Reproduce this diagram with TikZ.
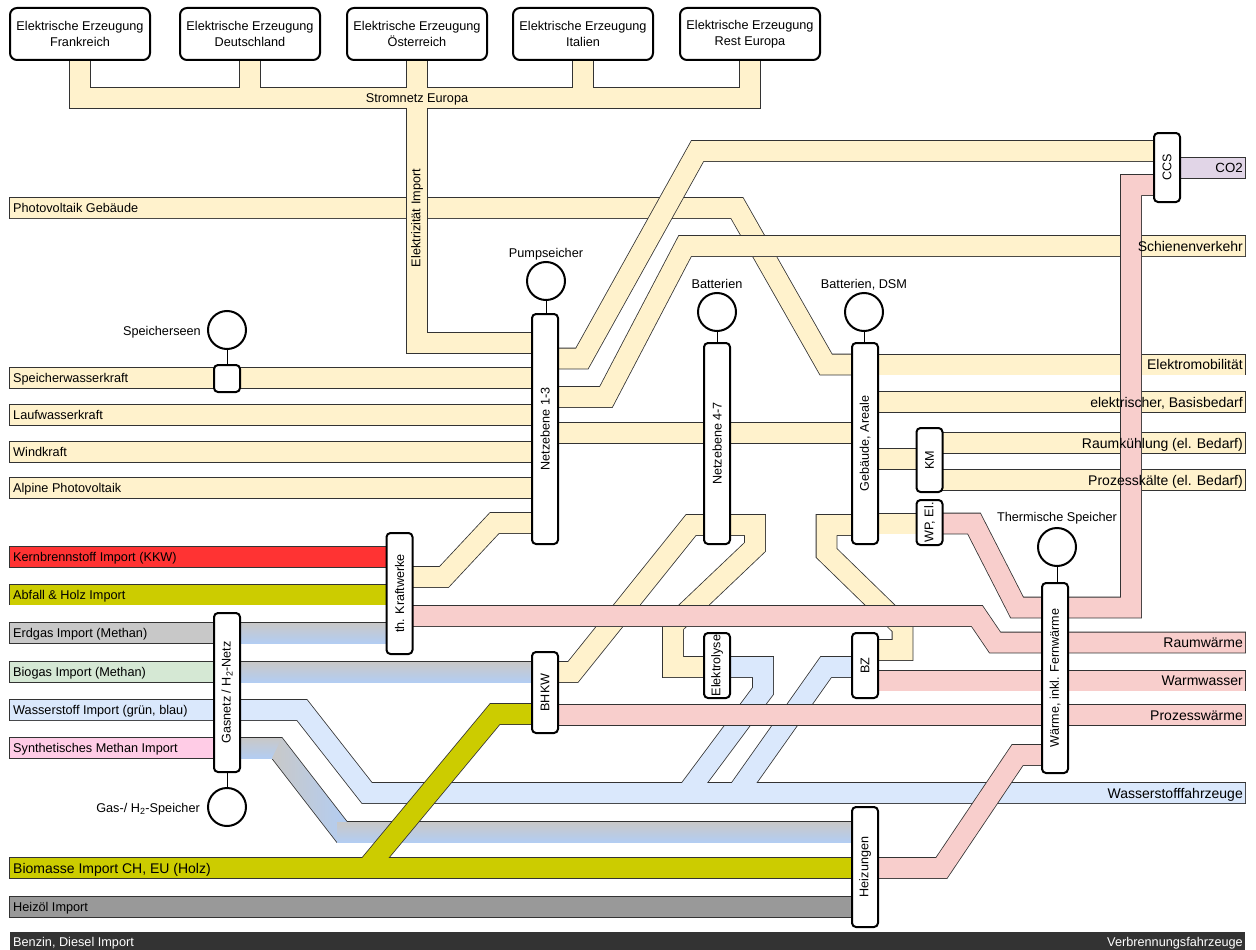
\documentclass[tikz,border=0pt]{standalone}
\usepackage{fontspec}
\setmainfont{Liberation Sans}
\usepackage{graphicx}
\definecolor{cEl}{HTML}{FFF2CC}
\definecolor{cHeat}{HTML}{F8CECC}
\definecolor{cHy}{HTML}{DAE8FC}
\definecolor{cOlive}{HTML}{CCCC00}
\definecolor{cRed}{HTML}{FF3333}
\definecolor{cGas}{HTML}{C8C8C8}
\definecolor{cGasB}{HTML}{B3CDF2}
\definecolor{cBio}{HTML}{D5E8D4}
\definecolor{cSyn}{HTML}{FFCCE6}
\definecolor{cOil}{HTML}{999999}
\definecolor{cDark}{HTML}{333333}
\definecolor{cCO}{HTML}{E1D5E7}
\pgfdeclarelayer{bg}
\pgfsetlayers{bg,main}
\newcommand\band[2]{\draw[bo] #2; \draw[bf=#1] #2;}
\newcommand\combpaths[1]{%
  \draw[#1] (fr.south) -- (80,98) -- (750,98) -- (re.south);
  \draw[#1] (de.south) -- (250,98);
  \draw[#1] (it.south) -- (583,98);
  \draw[#1] (oe.south) -- (417,343) -- (n13.west |- 0,343);}
\newcommand\ypaths[1]{%
  \draw[#1] (swL) -- (n13.west |- 0,378);
  \draw[#1] (lwL) -- (n13.west |- 0,415);
  \draw[#1] (wkL) -- (n13.west |- 0,452);
  \draw[#1] (apL) -- (n13.west |- 0,488);
  \draw[#1] (n13.east |- 0,433) -- (geb.west |- 0,433);
  \draw[#1] (thkw.east |- 0,577) -- (444,577) -- (494.5,523) -- (n13.west |- 0,523);
  \draw[#1] (geb.east |- 0,364.5) -- (emR);
  \draw[#1] (geb.east |- 0,402) -- (bbR);
  \draw[#1] (geb.east |- 0,459) -- (km.west |- 0,459);
  \draw[#1] (km.east |- 0,443) -- (rkR);
  \draw[#1] (km.east |- 0,480) -- (pkR);
  \draw[#1] (geb.east |- 0,523.5) -- (wp.west |- 0,523.5);
  \draw[#1] (geb.west |- 0,525) -- (826.5,525) -- (826.5,553) -- (902.5,627) -- (902.5,650) -- (bz.east |- 0,650);
  \draw[#1] (bhkw.east |- 0,672) -- (573,672) -- (691,525) -- (n47.west |- 0,525);
  \draw[#1] (n47.east |- 0,525) -- (755,525) -- (755,547) -- (673,625) -- (673,667) -- (ely.west |- 0,667);}
\newcommand\bpaths[1]{%
  \draw[#1] (wiL) -- (302,710) -- (367,793) -- (wfR);
  \draw[#1] (ely.east |- 0,667) -- (763,667) -- (763,691) -- (687,793);
  \draw[#1] (737,793) -- (826,667) -- (bz.west |- 0,667);}
\newcommand\ppaths[1]{%
  \draw[#1] (thkw.east |- 0,616) -- (977,616) -- (995,642.5) -- (rwR);
  \draw[#1] (wp.east |- 0,523.5) -- (974,523.5) -- (1017,607.5) -- (1131,607.5) -- (1131,185) -- (ccs.west |- 0,185);
  \draw[#1] (bz.east |- 0,680.5) -- (wwR);
  \draw[#1] (bhkw.east |- 0,715) -- (pwR);
  \draw[#1] (heiz.east |- 0,868) -- (941.5,868) -- (1017.5,755) -- (waerme.west |- 0,755);}
\newcommand\opaths[1]{%
  \draw[#1] (bmL) -- (heiz.west |- 0,868);
  \draw[#1] (367,868) -- (495,714) -- (bhkw.west |- 0,714);}
\begin{document}
\begin{tikzpicture}[x=1pt,y=-1pt,
  bo/.style={line width=21.6pt, draw=black!80, shorten <=-0.8pt, shorten >=-0.8pt},
  bf/.style={line width=20pt, draw=#1},
  bx/.style={draw=black, line width=2pt, fill=white, rounded corners=4pt, outer sep=0pt, inner sep=0pt, font=\fontsize{12.6}{14}\selectfont, minimum width=26pt},
  tbx/.style={draw=black, line width=2pt, fill=white, rounded corners=7pt, outer sep=0pt, minimum width=140pt, minimum height=52pt, align=center, font=\fontsize{12.7}{15.5}\selectfont},
  st/.style={circle, draw=black, line width=2pt, fill=white, minimum size=38pt, inner sep=0pt, outer sep=0pt},
  lbl/.style={font=\fontsize{12.7}{14}\selectfont, inner sep=0pt},
  big/.style={font=\fontsize{14}{16}\selectfont, yshift=-0.5pt},
  lt/.style={lbl, anchor=base west, yshift=-4.5pt},
  rt/.style={lbl, anchor=base east, yshift=-4.5pt},
  ct/.style={lbl, anchor=base, yshift=-4.5pt},
  tie/.style={draw=black, line width=1pt}
]
\path[use as bounding box] (0,0) rectangle (1256,950);
% ---------- end coordinates of the bands
\coordinate (pvL) at (10,208);
\coordinate (swL) at (10,378);
\coordinate (lwL) at (10,415);
\coordinate (wkL) at (10,452);
\coordinate (apL) at (10,488);
\coordinate (kbL) at (10,557);
\coordinate (ahL) at (10,594.5);
\coordinate (egL) at (10,633);
\coordinate (bgL) at (10,672);
\coordinate (wiL) at (10,710);
\coordinate (smL) at (10,748);
\coordinate (bmL) at (10,868);
\coordinate (hoL) at (10,907);
\coordinate (bdL) at (10,942);
\coordinate (co2R) at (1245,168);
\coordinate (schR) at (1245,246);
\coordinate (emR) at (1245,364.5);
\coordinate (bbR) at (1245,402);
\coordinate (rkR) at (1245,443);
\coordinate (pkR) at (1245,480);
\coordinate (rwR) at (1245,642.5);
\coordinate (wwR) at (1245,680.5);
\coordinate (pwR) at (1245,715);
\coordinate (wfR) at (1245,793);
\coordinate (bdR) at (1245,942);
% ---------- boxes
\node[tbx] (fr) at (80,34) {Elektrische Erzeugung\\Frankreich};
\node[tbx] (de) at (250,34) {Elektrische Erzeugung\\Deutschland};
\node[tbx] (oe) at (417,34) {Elektrische Erzeugung\\Österreich};
\node[tbx] (it) at (583,34) {Elektrische Erzeugung\\Italien};
\node[tbx] (re) at (750,34) {Elektrische Erzeugung\\Rest Europa};
\node[bx, minimum height=230pt] (n13) at (545,429) {\rotatebox{90}{Netzebene 1-3}};
\node[bx, minimum height=201pt] (n47) at (717,443.5) {\rotatebox{90}{Netzebene 4-7}};
\node[bx, minimum height=201pt] (geb) at (865,443.5) {\rotatebox{90}{Gebäude, Areale}};
\node[bx, minimum height=64pt] (km) at (929.5,460) {\rotatebox{90}{KM}};
\node[bx, minimum height=45pt] (wp) at (929.5,522.5) {\rotatebox{90}{WP, El.}};
\node[bx, minimum height=121pt] (thkw) at (399.5,593.5) {\rotatebox{90}{th. Kraftwerke}};
\node[bx, minimum height=159pt] (gas) at (227,692.5) {\rotatebox{90}{Gasnetz / H\textsubscript{2}-Netz}};
\node[bx, minimum height=81pt] (bhkw) at (545,692.5) {\rotatebox{90}{BHKW}};
\node[bx, minimum height=65pt] (ely) at (717,665.5) {\rotatebox{90}{Elektrolyse}};
\node[bx, minimum height=65pt] (bz) at (865,665.5) {\rotatebox{90}{BZ}};
\node[bx, minimum height=120pt] (heiz) at (865,867) {\rotatebox{90}{Heizungen}};
\node[bx, minimum height=190pt] (waerme) at (1055,678) {\rotatebox{90}{Wärme, inkl. Fernwärme}};
\node[bx, minimum height=69pt] (ccs) at (1167,167.5) {\rotatebox{90}{CCS}};
\node[bx, minimum height=27pt] (sq) at (227,378.5) {};
% ---------- storages
\node[st] (pump) at (546,281) {};
\node[st] (sees) at (227,330) {};
\node[st] (batt) at (717,312) {};
\node[st] (bdsm) at (864,312) {};
\node[st] (therm) at (1057,547) {};
\node[st] (gsp) at (227,807) {};
\draw[tie] (pump.south) -- (pump.south |- n13.north);
\draw[tie] (sees.south) -- (sq.north);
\draw[tie] (batt.south) -- (batt.south |- n47.north);
\draw[tie] (bdsm.south) -- (bdsm.south |- geb.north);
\draw[tie] (therm.south) -- (therm.south |- waerme.north);
\draw[tie] (gas.south) -- (gsp.north);
\node[ct] (pumpT) at (546,253) {Pumpseicher};
\node[rt] (seesT) at (201,331) {Speicherseen};
\node[ct] (battT) at (717,284) {Batterien};
\node[ct] (bdsmT) at (864,284) {Batterien, DSM};
\node[ct] (thermT) at (1057,517) {Thermische Speicher};
\node[rt] (gspT) at (200,808) {Gas-/ H\textsubscript{2}-Speicher};
% ---------- bands
\begin{pgfonlayer}{bg}
\fill[white] (0,0) rectangle (1256,950);
\band{cEl}{(pvL) -- (737,208) -- (826,364.5) -- (geb.west |- 0,364.5)}
\band{cEl}{(n13.east |- 0,358.5) -- (582,358.5) -- (697.5,151) -- (ccs.west |- 0,151)}
\band{cEl}{(n13.east |- 0,397) -- (606,397) -- (685,246) -- (schR)}
\combpaths{bo}
\combpaths{bf=cEl}
\ypaths{bo}
\ypaths{bf=cEl}
\bpaths{bo}
\bpaths{bf=cHy}
% gas mixtures
\draw[bo] (egL) -- (thkw.west |- 0,633);
\draw[bo] (bgL) -- (bhkw.west |- 0,672);
\draw[bo] (smL) -- (277,748) -- (342,832) -- (heiz.west |- 0,832);
\fill[cGas] (10,623) rectangle (228,643);
\shade[top color=cGas, bottom color=cGasB] (226,623) rectangle (388,643);
\fill[cBio] (10,662) rectangle (228,682);
\shade[top color=cGas, bottom color=cGasB] (226,662) rectangle (534,682);
\fill[cSyn] (10,738) rectangle (228,758);
\shade[top color=cGas, bottom color=cGasB] (226,738) rectangle (282,758);
\shade[left color=cGas, right color=cGasB] (281.9,738) -- (346.9,822) -- (337.1,842) -- (272.1,758) -- cycle;
\shade[top color=cGas, bottom color=cGasB] (337,822) rectangle (853,842);
\ppaths{bo}
\ppaths{bf=cHeat}
\band{cRed}{(kbL) -- (thkw.west |- 0,557)}
\band{cOlive}{(ahL) -- (thkw.west |- 0,594.5)}
\opaths{bo}
\opaths{bf=cOlive}
\band{cOil}{(hoL) -- (heiz.west |- 0,907)}
\draw[bf=cDark] (bdL) -- (bdR);
\band{cCO}{(ccs.east |- 0,168) -- (co2R)}
\end{pgfonlayer}
% ---------- labels
\node[ct] (snT) at (417,98) {Stromnetz Europa};
\node[lbl, rotate=90] (eiT) at (417,218) {Elektrizität Import};
\node[lt] at (13,208) {Photovoltaik Gebäude};
\node[lt] at (13,378) {Speicherwasserkraft};
\node[lt] at (13,415) {Laufwasserkraft};
\node[lt] at (13,452) {Windkraft};
\node[lt] at (13,488) {Alpine Photovoltaik};
\node[lt] at (13,557) {Kernbrennstoff Import (KKW)};
\node[lt] at (13,594.5) {Abfall \& Holz Import};
\node[lt] at (13,633) {Erdgas Import (Methan)};
\node[lt] at (13,672) {Biogas Import (Methan)};
\node[lt] at (13,710) {Wasserstoff Import (grün, blau)};
\node[lt] at (13,748) {Synthetisches Methan Import};
\node[lt, big] at (13,868) {Biomasse Import CH, EU (Holz)};
\node[lt] at (13,907) {Heizöl Import};
\node[lt, text=white] at (13,942) {Benzin, Diesel Import};
\node[rt, font=\fontsize{13.3}{15}\selectfont] at (1243,168) {CO2};
\node[rt, big] at (1243,246) {Schienenverkehr};
\node[rt, big] at (1243,364.5) {Elektromobilität};
\node[rt, big] at (1243,402) {elektrischer, Basisbedarf};
\node[rt, big] at (1243,443) {Raumkühlung (el. Bedarf)};
\node[rt, big] at (1243,480) {Prozesskälte (el. Bedarf)};
\node[rt, big] at (1243,642.5) {Raumwärme};
\node[rt, big] at (1243,680.5) {Warmwasser};
\node[rt, big] at (1243,715) {Prozesswärme};
\node[rt, big] at (1243,793) {Wasserstofffahrzeuge};
\node[rt, text=white] at (1243,942) {Verbrennungsfahrzeuge};
\end{tikzpicture}
\end{document}
